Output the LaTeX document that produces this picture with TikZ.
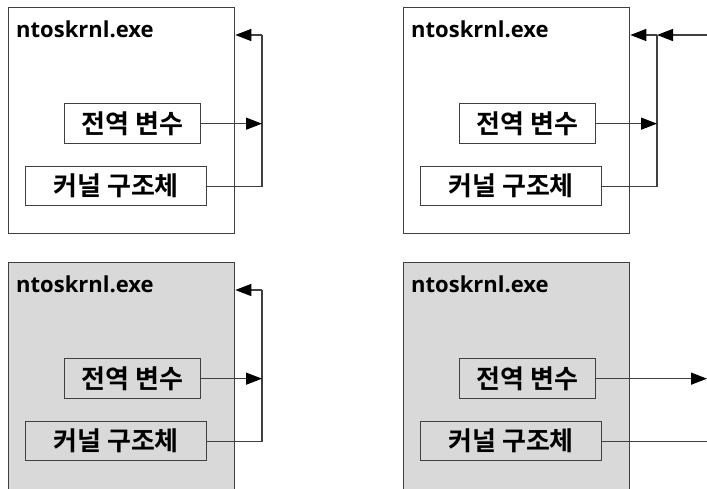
\documentclass[tikz,border=0pt]{standalone}
\usepackage{fontspec}
\setmainfont{Open Sans}
\newfontfamily\kr{Noto Sans CJK KR Bold}
\usetikzlibrary{arrows.meta}
\definecolor{ln}{HTML}{404040}
\definecolor{shade}{HTML}{D9D9D9}
\tikzset{
  outerbox/.style={draw=ln, line width=1.3pt, anchor=north west, minimum width=226pt, inner sep=0pt},
  innerbox/.style={draw=ln, line width=1.3pt, anchor=north west, inner sep=0pt, font=\kr\fontsize{26}{28}\selectfont},
  ttl/.style={anchor=base west, inner sep=0pt, font=\bfseries\fontsize{22}{24}\selectfont},
  conn/.style={draw=ln, line width=1.3pt},
  arr/.style={conn, -{Triangle[length=16pt,width=12pt,color=black]}},
}
\begin{document}
\begin{tikzpicture}[x=1pt,y=-1pt]
\useasboundingbox (0,0) rectangle (707,488);
\clip (0,0) rectangle (707,488);
% ---- top-left
\node[outerbox, minimum height=226pt] (k1) at (8,7) {};
\node[ttl] (t1) at (16,37) {ntoskrnl.exe};
\node[innerbox, minimum width=136pt, minimum height=40pt] (v1) at (64,103) {전역 변수};
\node[innerbox, minimum width=181pt, minimum height=39pt] (s1) at (25,166) {커널 구조체};
\coordinate (c1) at (262,35);
\draw[conn] (s1.east) -| (c1);
\draw[arr] (v1.east) -- (v1.east -| c1);
\draw[arr] (c1) -- (c1 -| k1.east);
% ---- top-right
\node[outerbox, minimum height=226pt] (k2) at (403,7) {};
\node[ttl] (t2) at (411,37) {ntoskrnl.exe};
\node[innerbox, minimum width=136pt, minimum height=40pt] (v2) at (459,103) {전역 변수};
\node[innerbox, minimum width=181pt, minimum height=39pt] (s2) at (420,166) {커널 구조체};
\coordinate (c2) at (657,35);
\coordinate (e2) at (708,35);
\draw[conn] (s2.east) -| (c2);
\draw[arr] (v2.east) -- (v2.east -| c2);
\draw[arr] (c2) -- (c2 -| k2.east);
\draw[arr] (e2) -- (c2);
% ---- bottom-left
\node[outerbox, fill=shade, minimum height=240pt] (k3) at (8,262) {};
\node[ttl] (t3) at (16,292) {ntoskrnl.exe};
\node[innerbox, minimum width=136pt, minimum height=40pt] (v3) at (64,358) {전역 변수};
\node[innerbox, minimum width=181pt, minimum height=39pt] (s3) at (25,421) {커널 구조체};
\coordinate (c3) at (262,290);
\draw[conn] (s3.east) -| (c3);
\draw[arr] (v3.east) -- (v3.east -| c3);
\draw[arr] (c3) -- (c3 -| k3.east);
% ---- bottom-right
\node[outerbox, fill=shade, minimum height=240pt] (k4) at (403,262) {};
\node[ttl] (t4) at (411,292) {ntoskrnl.exe};
\node[innerbox, minimum width=136pt, minimum height=40pt] (v4) at (459,358) {전역 변수};
\node[innerbox, minimum width=181pt, minimum height=39pt] (s4) at (420,421) {커널 구조체};
\coordinate (e4) at (707,378);
\coordinate (f4) at (710,440);
\draw[arr] (v4.east) -- (v4.east -| e4);
\draw[conn] (s4.east) -- (s4.east -| f4);
\end{tikzpicture}
\end{document}
